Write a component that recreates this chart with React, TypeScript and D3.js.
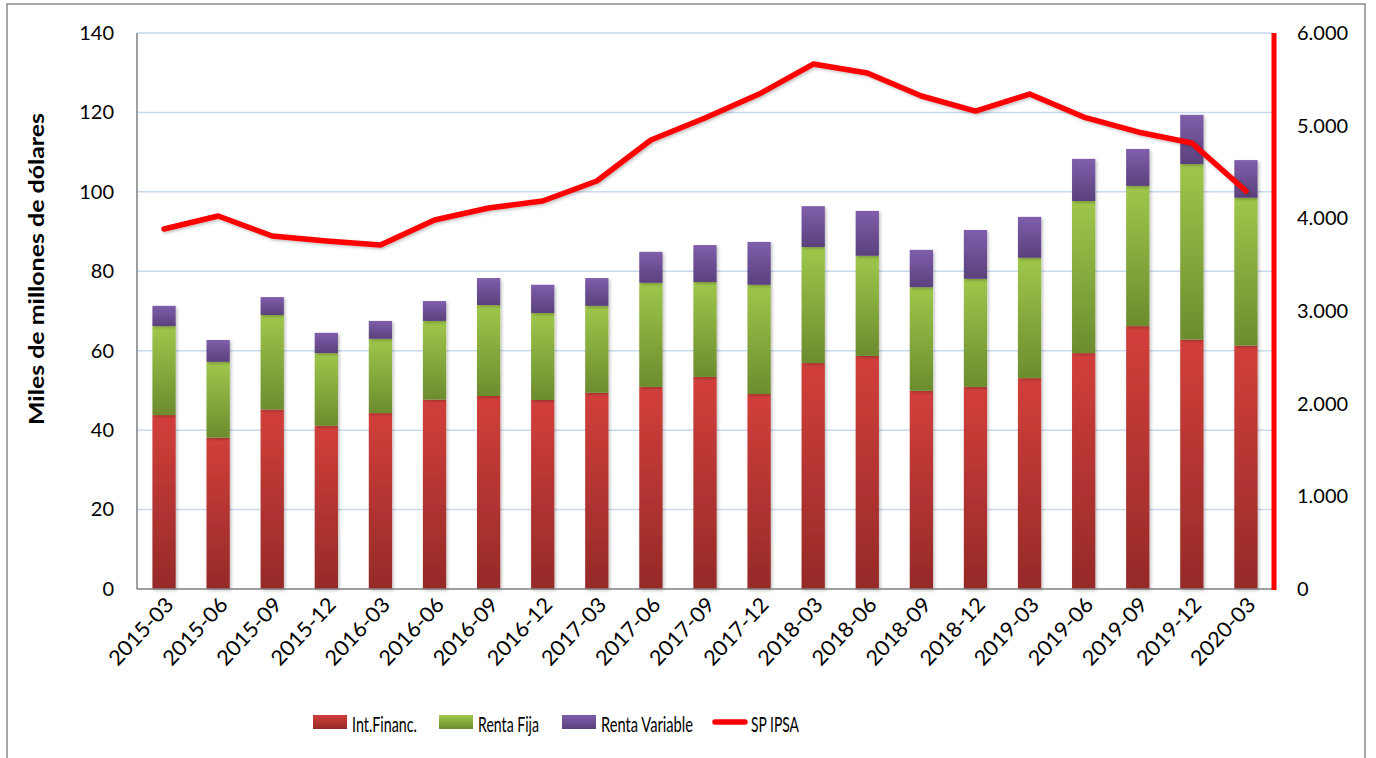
import React, { useEffect, useRef } from "react";
import * as d3 from "d3";

const periods = [
	"2015-03", "2015-06", "2015-09", "2015-12", "2016-03", "2016-06", "2016-09", "2016-12",
	"2017-03", "2017-06", "2017-09", "2017-12", "2018-03", "2018-06", "2018-09", "2018-12",
	"2019-03", "2019-06", "2019-09", "2019-12", "2020-03",
];
const intFinanc = [43.8, 38.1, 45.2, 41.1, 44.3, 47.7, 48.6, 47.6, 49.4, 50.9, 53.4, 49.1, 56.9, 58.7, 49.9, 50.9, 53.1, 59.4, 66.2, 62.8, 61.3];
const rentaFija = [22.4, 19.1, 23.8, 18.3, 18.7, 19.8, 22.9, 21.9, 21.9, 26.2, 23.9, 27.5, 29.2, 25.2, 26.1, 27.2, 30.3, 38.3, 35.3, 44.2, 37.2];
const rentaVariable = [5.1, 5.5, 4.5, 5.1, 4.5, 5.0, 6.8, 7.1, 7.0, 7.8, 9.3, 10.8, 10.3, 11.3, 9.4, 12.3, 10.3, 10.6, 9.3, 12.4, 9.5];
const spIpsa = [3885, 4025, 3809, 3755, 3712, 3982, 4111, 4187, 4403, 4845, 5083, 5341, 5665, 5568, 5320, 5158, 5341, 5093, 4932, 4813, 4295];
const leftTicks = [0, 20, 40, 60, 80, 100, 120, 140];
const rightTicks = [0, 1000, 2000, 3000, 4000, 5000, 6000];

const seriesInfo = [
	{ key: "int", name: "Int.Financ.", top: "#d23f3b", bottom: "#952a28", len: 65 },
	{ key: "fija", name: "Renta Fija", top: "#9fc74b", bottom: "#6c8c2e", len: 61 },
	{ key: "var", name: "Renta Variable", top: "#7f5eab", bottom: "#5a417c", len: 92 },
];

const FONT = "Lato, 'Open Sans', sans-serif";

const App = () => {
	const svgRef = useRef<SVGSVGElement | null>(null);

	useEffect(() => {
		const svg = d3.select(svgRef.current);
		svg.selectAll("*").remove();

		const left = 137, right = 1273, top = 33, bottom = 589;

		// frame
		svg.append("rect").attr("x", 7).attr("y", 4).attr("width", 1358).attr("height", 760)
			.attr("fill", "white").attr("stroke", "#8c8c8c").attr("stroke-width", 1.5);

		const defs = svg.append("defs");
		seriesInfo.forEach((s) => {
			const g = defs.append("linearGradient").attr("id", "grad-" + s.key)
				.attr("x1", 0).attr("y1", 0).attr("x2", 0).attr("y2", 1);
			g.append("stop").attr("offset", "0%").attr("stop-color", s.top);
			g.append("stop").attr("offset", "100%").attr("stop-color", s.bottom);
		});
		const shadow = defs.append("filter").attr("id", "shadow")
			.attr("x", "-30%").attr("y", "-30%").attr("width", "160%").attr("height", "160%");
		shadow.append("feDropShadow").attr("dx", 1.5).attr("dy", 1.5).attr("stdDeviation", 1.5)
			.attr("flood-color", "#000").attr("flood-opacity", 0.25);

		const x = d3.scaleBand().domain(periods).range([left, right]).paddingInner(0.57).paddingOuter(0.285);
		const y = d3.scaleLinear().domain([0, 140]).range([bottom, top]);
		const y2 = d3.scaleLinear().domain([0, 6000]).range([bottom, top]);

		// gridlines
		svg.append("g").selectAll("line").data(leftTicks.filter((t) => t > 0)).join("line")
			.attr("x1", left).attr("x2", right)
			.attr("y1", (d) => y(d)).attr("y2", (d) => y(d))
			.attr("stroke", "#c9d9ee").attr("stroke-width", 1.5);

		// stacked bars
		const rows = periods.map((p, i) => ({ period: p, int: intFinanc[i], fija: rentaFija[i], var: rentaVariable[i] }));
		const stack = d3.stack<any>().keys(["int", "fija", "var"])(rows);
		stack.forEach((layer, li) => {
			svg.append("g").attr("filter", "url(#shadow)").selectAll("rect").data(layer).join("rect")
				.attr("x", (d: any) => x(d.data.period) as number)
				.attr("width", x.bandwidth())
				.attr("y", (d) => y(d[1]))
				.attr("height", (d) => y(d[0]) - y(d[1]))
				.attr("fill", `url(#grad-${seriesInfo[li].key})`);
		});

		// axes lines
		svg.append("line").attr("x1", left).attr("x2", left).attr("y1", top).attr("y2", bottom)
			.attr("stroke", "#7f7f7f").attr("stroke-width", 1.5);
		svg.append("line").attr("x1", left).attr("x2", right).attr("y1", bottom).attr("y2", bottom)
			.attr("stroke", "#7f7f7f").attr("stroke-width", 1.5);

		// left axis
		const yAxis = svg.append("g").attr("transform", `translate(${left},0)`)
			.call(d3.axisLeft(y).tickValues(leftTicks).tickSize(0).tickPadding(23));
		yAxis.select(".domain").remove();
		yAxis.selectAll("text").style("font-family", FONT).style("font-size", "20px").attr("fill", "#000");

		// right axis
		const y2Axis = svg.append("g").attr("transform", `translate(${right},0)`)
			.call(d3.axisRight(y2).tickValues(rightTicks).tickSize(0).tickPadding(24)
				.tickFormat((d) => d3.format(",")(d as number).replace(/,/g, ".")));
		y2Axis.select(".domain").remove();
		y2Axis.selectAll("text").style("font-family", FONT).style("font-size", "20px").attr("fill", "#000");
		svg.append("line").attr("x1", right + 1).attr("x2", right + 1).attr("y1", top).attr("y2", bottom + 1)
			.attr("stroke", "#ff0000").attr("stroke-width", 5);

		// x labels
		svg.append("g").selectAll("text").data(periods).join("text")
			.attr("transform", (d) => `translate(${(x(d) as number) + x.bandwidth() / 2 + 7},${bottom + 13}) rotate(-47)`)
			.attr("text-anchor", "end")
			.attr("dominant-baseline", "middle")
			.attr("textLength", 84).attr("lengthAdjust", "spacingAndGlyphs")
			.style("font-family", FONT).style("font-size", "21px")
			.text((d) => d);

		// y title
		svg.append("text")
			.attr("transform", `translate(44,269) rotate(-90)`)
			.attr("text-anchor", "middle")
			.attr("textLength", 312).attr("lengthAdjust", "spacingAndGlyphs")
			.style("font-family", FONT).style("font-size", "21px").style("font-weight", "bold")
			.text("Miles de millones de dólares");

		// SP IPSA line
		const line = d3.line<number>()
			.x((_, i) => (x(periods[i]) as number) + x.bandwidth() / 2)
			.y((d) => y2(d));
		svg.append("path").datum(spIpsa).attr("d", line)
			.attr("fill", "none").attr("stroke", "#ff0000").attr("stroke-width", 5.5)
			.attr("stroke-linejoin", "round").attr("stroke-linecap", "round")
			.attr("filter", "url(#shadow)");

		// legend
		const legend = svg.append("g").attr("transform", "translate(0,722)");
		const legendX = [313, 439, 562];
		seriesInfo.forEach((s, i) => {
			legend.append("rect").attr("x", legendX[i]).attr("y", -7).attr("width", 34).attr("height", 14)
				.attr("fill", `url(#grad-${s.key})`);
			legend.append("text").attr("x", legendX[i] + 39).attr("y", 1).attr("dominant-baseline", "central")
				.attr("textLength", s.len).attr("lengthAdjust", "spacingAndGlyphs")
				.style("font-family", FONT).style("font-size", "22px").text(s.name);
		});
		legend.append("line").attr("x1", 715).attr("x2", 745).attr("y1", 0).attr("y2", 0)
			.attr("stroke", "#ff0000").attr("stroke-width", 5.5).attr("stroke-linecap", "round");
		legend.append("text").attr("x", 751).attr("y", 1).attr("dominant-baseline", "central")
			.attr("textLength", 48).attr("lengthAdjust", "spacingAndGlyphs")
			.style("font-family", FONT).style("font-size", "22px").text("SP IPSA");
	}, []);

	return (
		<div style={{ position: "absolute", left: 0, top: 0, width: 1376, height: 758, overflow: "hidden" }}>
			<svg ref={svgRef} width={1376} height={758}></svg>
		</div>
	);
};

export default App;
